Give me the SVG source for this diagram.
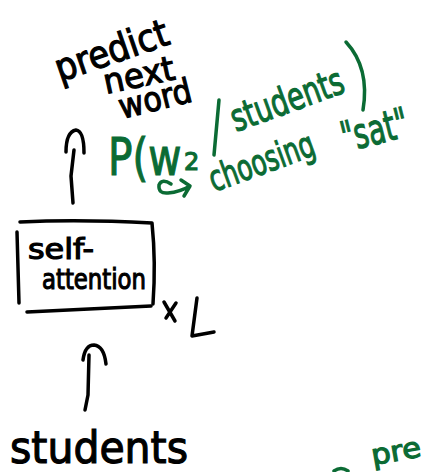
<svg xmlns="http://www.w3.org/2000/svg" width="427" height="472" viewBox="0 0 427 472">
  <style>
    .ink { fill: #000; stroke: #000; stroke-width: 1.2; font-family: "DejaVu Sans", "Liberation Sans", sans-serif; }
    .green { fill: #0b6b34; stroke: #0b6b34; stroke-width: 1.2; font-family: "DejaVu Sans", "Liberation Sans", sans-serif; }
    .pen { fill: none; stroke: #000; stroke-width: 3.5; stroke-linecap: round; stroke-linejoin: round; }
    .gpen { fill: none; stroke: #0b6b34; stroke-width: 3.5; stroke-linecap: round; stroke-linejoin: round; }
  </style>
  <rect width="427" height="472" fill="#fff"/>

  <!-- output label -->
  <g id="predict-next-word">
    <text class="ink" font-size="38" transform="translate(60,82) rotate(-19)" textLength="118" lengthAdjust="spacingAndGlyphs">predict</text>
    <text class="ink" font-size="34" transform="translate(106,94) rotate(-12)" textLength="72" lengthAdjust="spacingAndGlyphs">next</text>
    <text class="ink" font-size="34" transform="translate(122,119) rotate(-14)" textLength="74" lengthAdjust="spacingAndGlyphs">word</text>
  </g>

  <!-- probability note -->
  <g id="probability-note">
    <text class="green" font-size="52" transform="translate(108,175) scale(0.78,1)">P(w</text>
    <text class="green" font-size="24" x="184" y="170">2</text>
    <path class="gpen" d="M219,100 L214,155"/>
    <text class="green" font-size="38" transform="translate(236,132) rotate(-20)" textLength="118" lengthAdjust="spacingAndGlyphs">students</text>
    <path class="gpen" d="M346,42 Q370,68 363,110"/>
    <path class="gpen" d="M171,184 Q162,178 159,185 Q158,194 168,193 Q180,192 190,186 M181,180 L190,186 L184,196"/>
    <text class="green" font-size="36" transform="translate(214,192) rotate(-20)" textLength="110" lengthAdjust="spacingAndGlyphs">choosing</text>
    <text class="green" font-size="42" transform="translate(345,152) rotate(-14) scale(0.66,1)">"sat"</text>
  </g>

  <!-- self-attention block, repeated L times -->
  <g id="self-attention">
    <path class="pen" d="M20,222 Q80,219 152,223 Q156,262 153,304"/>
    <path class="pen" d="M17,232 L19,303"/>
    <path class="pen" d="M27,312 Q90,309 151,306"/>
    <text class="ink" font-size="28" x="28" y="259" textLength="66" lengthAdjust="spacingAndGlyphs">self-</text>
    <text class="ink" font-size="28" x="42" y="289" textLength="104" lengthAdjust="spacingAndGlyphs">attention</text>
  </g>
  <g id="times-L">
    <path class="pen" d="M164,302 L175,321 M176,303 L166,318"/>
    <path class="pen" d="M197,298 L192,336 L214,332"/>
  </g>

  <!-- input token -->
  <g id="students-input">
    <text class="ink" font-size="44" x="10" y="463" textLength="178" lengthAdjust="spacingAndGlyphs">students</text>
  </g>

  <!-- cut-off note at the lower right -->
  <g id="green-fragment">
    <path class="gpen" d="M334,471 Q341,466 348,471"/>
    <text class="green" font-size="28" transform="translate(373,465) rotate(-10)" textLength="50" lengthAdjust="spacingAndGlyphs">pre</text>
  </g>

  <!-- arrows -->
  <g id="connectors">
    <path class="pen" d="M66,152 Q66,132 76,130 Q84,131 84,153"/>
    <path class="pen" d="M74,150 L71,176 L73,203"/>
    <path class="pen" d="M83,360 Q85,345 94,345 Q104,346 106,364"/>
    <path class="pen" d="M89,355 L88,395 L85,410"/>
  </g>
</svg>
